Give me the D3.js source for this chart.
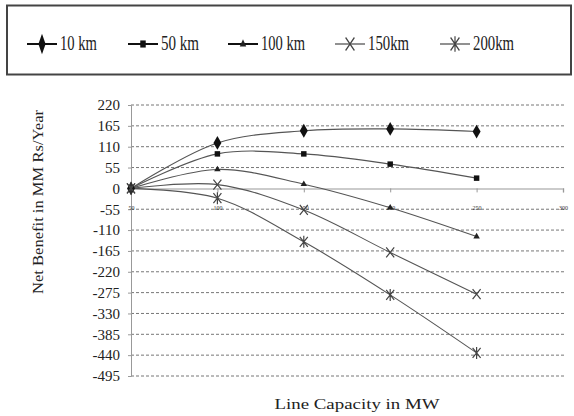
<!DOCTYPE html>
<html><head><meta charset="utf-8">
<script src="https://cdn.jsdelivr.net/npm/d3@7"></script>
<style>body{margin:0;background:#fff}svg{display:block}</style>
</head><body>
<svg id="c" width="574" height="416"></svg>
<script>
const categories = ["50","100","150","200","250","300"];
const seriesNames = ["10 km","50 km","100 km","150km","200km"];
const s10km  = [0, 120, 152, 157, 150];
const s50km  = [0, 91, 91, 64, 27];
const s100km = [0, 50, 11, -51, -127];
const s150km = [0, 10, -57, -169, -279];
const s200km = [0, -26, -141, -281, -434];
const yTicks = [220,165,110,55,0,-55,-110,-165,-220,-275,-330,-385,-440,-495];
const markers = ["diamond","square","triangle","x","asterisk"];

const series = [s10km,s50km,s100km,s150km,s200km];
const svg = d3.select("#c");
const x = d3.scalePoint().domain(categories).range([131,563]);
const y = d3.scaleLinear().domain([-495,220]).range([376,105]);
const serif = "'Liberation Serif','DejaVu Serif',serif";

// Legend box
svg.append("rect").attr("x",7).attr("y",5.5).attr("width",564).attr("height",69)
  .attr("fill","#fff").attr("stroke","#444").attr("stroke-width",2);

function marker(g, type, cx, cy, sx, sy){
  sx = sx||1; sy = sy||sx;
  const m = g.append("g").attr("transform",`translate(${cx},${cy}) scale(${sx},${sy})`);
  if(type==="diamond"){
    m.append("path").attr("d",d3.symbol(d3.symbolDiamond,55)()).attr("fill","#111");
  } else if(type==="square"){
    m.append("path").attr("d",d3.symbol(d3.symbolSquare,30)()).attr("fill","#111");
  } else if(type==="triangle"){
    m.append("path").attr("d",d3.symbol(d3.symbolTriangle,18)()).attr("fill","#222");
  } else if(type==="x"){
    m.append("path").attr("d","M-4,-5L4,5M-4,5L4,-5").attr("stroke","#444").attr("stroke-width",1.2/sx).attr("fill","none");
  } else {
    m.append("path").attr("d","M-4,-5L4,5M-4,5L4,-5M0,-6L0,6").attr("stroke","#444").attr("stroke-width",1.2/sx).attr("fill","none");
  }
}

// Legend items
const legX = [27,128,228,335,440];
const legTextLen = [37,38,44,41,41];
const legScale = [[0.9,1.5],[1,1.3],[1,1.3],[1.1,1.3],[1.1,1.3]];
seriesNames.forEach((n,i)=>{
  const g = svg.append("g");
  g.append("line").attr("x1",legX[i]).attr("x2",legX[i]+30).attr("y1",44).attr("y2",44)
    .attr("stroke", i<3 ? "#111" : "#555").attr("stroke-width",i<3?2:1.3);
  marker(g, markers[i], legX[i]+15, 44, legScale[i][0], legScale[i][1]);
  g.append("text").attr("x",legX[i]+33).attr("y",50).attr("font-family",serif)
    .attr("font-size",20).attr("fill","#222")
    .attr("textLength",legTextLen[i]).attr("lengthAdjust","spacingAndGlyphs").text(n);
});

// Gridlines
svg.append("g").selectAll("line").data(yTicks.filter(d=>d!==0)).join("line")
  .attr("x1",131).attr("x2",566).attr("y1",d=>y(d)).attr("y2",d=>y(d))
  .attr("stroke","#777").attr("stroke-width",1).attr("stroke-dasharray","3,2");

// Y axis
const yAxis = svg.append("g").attr("transform","translate(131,0)")
  .call(d3.axisLeft(y).tickValues(yTicks).tickFormat(d=>String(d)).tickSize(3).tickPadding(8));
yAxis.select(".domain").attr("stroke","#999");
yAxis.selectAll(".tick line").attr("stroke","#999");
yAxis.selectAll("text").attr("font-family",serif).attr("font-size",15).attr("fill","#222");

// X axis at zero
const xAxis = svg.append("g").attr("transform",`translate(0,${y(0)})`)
  .call(d3.axisBottom(x).tickSize(4).tickPadding(13));
xAxis.select(".domain").attr("stroke","#bbb").attr("stroke-width",1.5);
xAxis.selectAll(".tick line").attr("stroke","#999");
xAxis.selectAll("text").attr("font-family",serif).attr("font-size",6).attr("fill","#333");

// Lines
const line = d3.line().x((d,i)=>x(categories[i])).y(d=>y(d)).curve(d3.curveCatmullRom.alpha(0.5));
series.forEach((s,k)=>{
  svg.append("path").datum(s).attr("d",line).attr("fill","none")
    .attr("stroke","#555").attr("stroke-width",1.1);
});
series.forEach((s,k)=>{
  s.forEach((v,i)=>{ marker(svg, markers[k], x(categories[i]), y(v), 1); });
});

// Axis titles
svg.append("text").attr("transform","translate(43,202) rotate(-90)").attr("text-anchor","middle")
  .attr("font-family",serif).attr("font-size",15).attr("fill","#222")
  .attr("textLength",184).attr("lengthAdjust","spacingAndGlyphs").text("Net Benefit in MM Rs/Year");
svg.append("text").attr("x",357).attr("y",409).attr("text-anchor","middle")
  .attr("font-family",serif).attr("font-size",15).attr("fill","#222")
  .attr("textLength",165).attr("lengthAdjust","spacingAndGlyphs").text("Line Capacity in MW");
</script>
</body></html>
